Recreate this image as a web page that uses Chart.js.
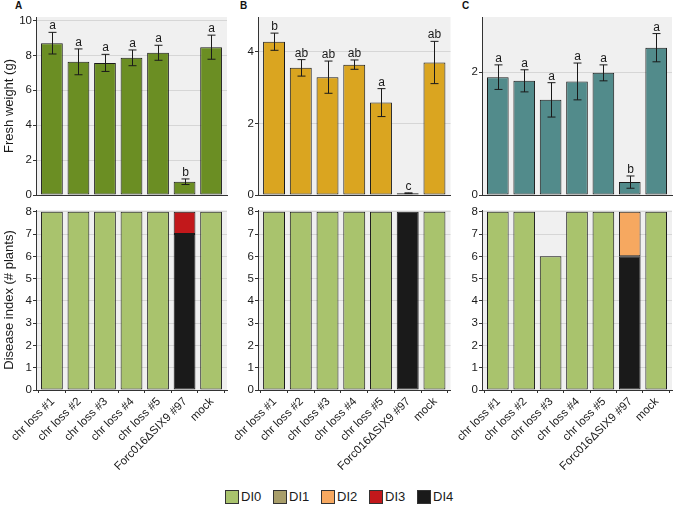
<!DOCTYPE html>
<html>
<head>
<meta charset="utf-8">
<script src="https://cdn.jsdelivr.net/npm/chart.js@4.4.0/dist/chart.umd.min.js"></script>
<style>
  body { margin: 0; background: #fff; font-family: "Liberation Sans", Arial, sans-serif; }
  #page { position: relative; width: 675px; height: 505px; overflow: hidden; }
  canvas { position: absolute; }
  .tag { position: absolute; font-weight: bold; font-size: 10px; line-height: 10px; color: #111; }
  .leg { position: absolute; top: 490px; font-size: 13px; line-height: 14px; color: #1a1a1a; }
  .leg span { display: inline-block; width: 12px; height: 12px; border: 1px solid #333; vertical-align: top; margin-right: 2px; }
</style>
</head>
<body>
<div id="page">
  <div class="tag" style="left:15px;top:1px">A</div>
  <div class="tag" style="left:240px;top:1px">B</div>
  <div class="tag" style="left:462px;top:1px">C</div>

  <canvas id="topA" width="230" height="198" style="left:0;top:0"></canvas>
  <canvas id="topB" width="225" height="198" style="left:230px;top:0"></canvas>
  <canvas id="topC" width="220" height="198" style="left:455px;top:0"></canvas>
  <canvas id="botA" width="230" height="280" style="left:0;top:200px"></canvas>
  <canvas id="botB" width="225" height="280" style="left:230px;top:200px"></canvas>
  <canvas id="botC" width="220" height="280" style="left:455px;top:200px"></canvas>

  <div id="legend"></div>
</div>

<script>
// categories
const cats = ['chr loss #1', 'chr loss #2', 'chr loss #3', 'chr loss #4', 'chr loss #5', 'Forc016ΔSIX9 #97', 'mock'];

// fresh weight (g), mean and standard error
const weightA = [8.70, 7.63, 7.57, 7.86, 8.15, 0.76, 8.47];
const seA = [0.62, 0.74, 0.49, 0.45, 0.43, 0.16, 0.69];
const lettersA = ['a', 'a', 'a', 'a', 'a', 'b', 'a'];

const weightB = [4.28, 3.55, 3.29, 3.64, 2.58, 0.05, 3.70];
const seB = [0.24, 0.23, 0.45, 0.13, 0.39, 0.01, 0.59];
const lettersB = ['b', 'ab', 'ab', 'ab', 'a', 'c', 'ab'];

const weightC = [1.92, 1.86, 1.55, 1.85, 1.99, 0.21, 2.40];
const seC = [0.20, 0.18, 0.28, 0.30, 0.13, 0.10, 0.23];
const lettersC = ['a', 'a', 'a', 'a', 'a', 'b', 'a'];

// disease index counts (# plants)
const di0A = [8, 8, 8, 8, 8, 0, 8];
const di1A = [0, 0, 0, 0, 0, 0, 0];
const di2A = [0, 0, 0, 0, 0, 0, 0];
const di3A = [0, 0, 0, 0, 0, 1, 0];
const di4A = [0, 0, 0, 0, 0, 7, 0];

const di0B = [8, 8, 8, 8, 8, 0, 8];
const di1B = [0, 0, 0, 0, 0, 0, 0];
const di2B = [0, 0, 0, 0, 0, 0, 0];
const di3B = [0, 0, 0, 0, 0, 0, 0];
const di4B = [0, 0, 0, 0, 0, 8, 0];

const di0C = [8, 8, 6, 8, 8, 0, 8];
const di1C = [0, 0, 0, 0, 0, 0, 0];
const di2C = [0, 0, 0, 0, 0, 2, 0];
const di3C = [0, 0, 0, 0, 0, 0, 0];
const di4C = [0, 0, 0, 0, 0, 6, 0];

// axis ticks
const ticksA = [0, 2, 4, 6, 8, 10];
const ticksB = [0, 2, 4];
const ticksC = [0, 2];
const ticksDI = [0, 1, 2, 3, 4, 5, 6, 7, 8];

const diNames = ['DI0', 'DI1', 'DI2', 'DI3', 'DI4'];
const diColors = ['#a9c36d', '#a89e6a', '#f6a860', '#c2181b', '#1a1a1a'];

Chart.defaults.font.family = '"Liberation Sans", Arial, sans-serif';

const ink = '#1a1a1a';
const axisCol = '#333333';

// grey panel background
const bgPlugin = {
    id: 'panelBg',
    beforeDraw(chart) {
        const a = chart.chartArea;
        const ctx = chart.ctx;
        ctx.save();
        ctx.fillStyle = '#f0f0f0';
        ctx.fillRect(a.left, a.top, a.right - a.left, a.bottom - a.top);
        ctx.restore();
    }
};

// error bars + letters on top
const errPlugin = (vals, errs, letters) => ({
    id: 'errBars',
    afterDatasetsDraw(chart) {
        const ctx = chart.ctx;
        const xs = chart.scales.x, ys = chart.scales.y;
        ctx.save();
        ctx.strokeStyle = ink;
        ctx.lineWidth = 1;
        ctx.fillStyle = ink;
        ctx.font = '12px "Liberation Sans", Arial, sans-serif';
        ctx.textAlign = 'center';
        ctx.textBaseline = 'alphabetic';
        vals.forEach((v, i) => {
            const x = Math.round(xs.getPixelForValue(i)) + 0.5;
            const yt = ys.getPixelForValue(v + errs[i]);
            const yb = ys.getPixelForValue(v - errs[i]);
            ctx.beginPath();
            ctx.moveTo(x, yt); ctx.lineTo(x, yb);
            ctx.moveTo(x - 4, yt); ctx.lineTo(x + 4, yt);
            ctx.moveTo(x - 4, yb); ctx.lineTo(x + 4, yb);
            ctx.stroke();
            ctx.fillText(letters[i], x, yt - 3);
        });
        ctx.restore();
    }
});

// category labels at 45 degrees under the bottom panels
const catLabels = {
    id: 'catLabels',
    afterDraw(chart) {
        const ctx = chart.ctx;
        const xs = chart.scales.x;
        ctx.save();
        ctx.fillStyle = ink;
        ctx.font = '11.5px "Liberation Sans", Arial, sans-serif';
        ctx.textAlign = 'right';
        ctx.textBaseline = 'alphabetic';
        cats.forEach((c, i) => {
            ctx.save();
            ctx.translate(xs.getPixelForValue(i) + 3, xs.top + 12);
            ctx.rotate(-Math.PI / 4);
            ctx.fillText(c, 0, 0);
            ctx.restore();
        });
        ctx.restore();
    }
};

const xScale = (showTicks, h) => ({
    type: 'linear',
    offset: false,
    min: -0.6,
    max: 6.6,
    afterBuildTicks: s => { s.ticks = cats.map((c, i) => ({ value: i })); },
    ticks: { display: false },
    grid: { display: showTicks, drawOnChartArea: false, tickLength: 3, tickColor: axisCol },
    border: { display: true, color: axisCol, width: 1 },
    afterFit: s => { s.height = h; s.paddingLeft = 0; s.paddingRight = 0; }
});

const yScale = (max, ticks, axisW, title) => ({
    min: 0,
    max: max,
    afterBuildTicks: s => { s.ticks = ticks.map(v => ({ value: v })); },
    ticks: { color: ink, font: { size: 11.5 }, padding: 1 },
    grid: { color: '#d6d6d6', tickColor: axisCol, tickLength: 3 },
    border: { display: true, color: axisCol, width: 1 },
    title: { display: !!title, text: title || '', color: ink, font: { size: 13 }, padding: { top: 2, bottom: 0 } },
    afterFit: s => { s.width = axisW; s.paddingTop = 0; s.paddingBottom = 0; }
});

function makeTop(id, vals, errs, letters, color, yMax, ticks, axisW, padRight, title) {
    new Chart(document.getElementById(id), {
        type: 'bar',
        data: {
            datasets: [{
                data: vals.map((v, i) => ({ x: i, y: v })),
                backgroundColor: color,
                borderColor: ink,
                borderWidth: 1,
                borderSkipped: false,
                barPercentage: 0.82,
                categoryPercentage: 1
            }]
        },
        options: {
            responsive: false,
            animation: false,
            layout: { padding: { top: 17, right: padRight, bottom: 3, left: 0 } },
            plugins: { legend: { display: false }, tooltip: { enabled: false } },
            scales: {
                x: xScale(false, 0),
                y: yScale(yMax, ticks, axisW, title)
            }
        },
        plugins: [bgPlugin, errPlugin(vals, errs, letters)]
    });
}

function makeBottom(id, series, axisW, padRight, title) {
    // stacked from the bottom: DI4, DI3, DI2, DI1, DI0
    const order = [4, 3, 2, 1, 0];
    new Chart(document.getElementById(id), {
        type: 'bar',
        data: {
            datasets: order.map(k => ({
                label: diNames[k],
                stack: 'di',
                data: series[k].map((v, i) => ({ x: i, y: v === 0 ? null : v })),
                backgroundColor: diColors[k],
                borderColor: ink,
                borderWidth: 1,
                borderSkipped: false,
                barPercentage: 0.82,
                categoryPercentage: 1
            }))
        },
        options: {
            responsive: false,
            animation: false,
            layout: { padding: { top: 10, right: padRight, bottom: 0, left: 0 } },
            plugins: { legend: { display: false }, tooltip: { enabled: false } },
            scales: {
                x: xScale(true, 90),
                y: Object.assign(yScale(8.08, ticksDI, axisW, title), { stacked: true })
            }
        },
        plugins: [bgPlugin, catLabels]
    });
}

makeTop('topA', weightA, seA, lettersA, '#6b8e23', 10.2, ticksA, 36, 3, 'Fresh weight (g)');
makeTop('topB', weightB, seB, lettersB, '#daa520', 4.97, ticksB, 28, 4.5, null);
makeTop('topC', weightC, seC, lettersC, '#528b8b', 2.9, ticksC, 27, 3, null);

makeBottom('botA', [di0A, di1A, di2A, di3A, di4A], 36, 3, 'Disease index (# plants)');
makeBottom('botB', [di0B, di1B, di2B, di3B, di4B], 28, 4.5, null);
makeBottom('botC', [di0C, di1C, di2C, di3C, di4C], 27, 3, null);

// legend
const legend = document.getElementById('legend');
diNames.forEach((n, i) => {
    const d = document.createElement('div');
    d.className = 'leg';
    d.style.left = (225 + i * 48) + 'px';
    d.innerHTML = '<span style="background:' + diColors[i] + '"></span>' + n;
    legend.appendChild(d);
});
</script>
</body>
</html>
